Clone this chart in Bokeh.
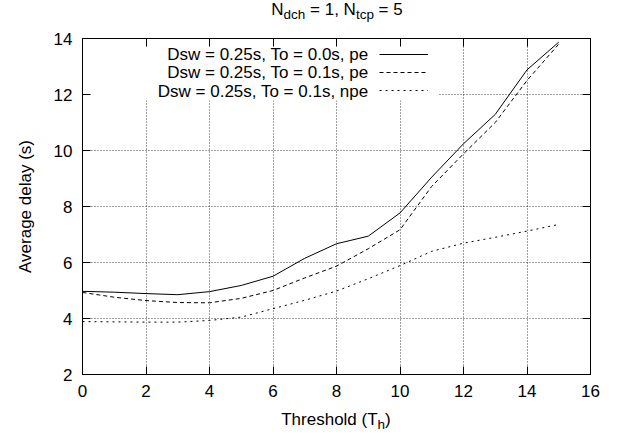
from bokeh.plotting import figure
from bokeh.layouts import column
from bokeh.models import (Range1d, LinearAxis, FixedTicker, Label, BoxAnnotation,
                          Legend, LegendItem, Div)
from bokeh.embed import file_html
from bokeh.resources import INLINE

# ---------------- data ----------------
threshold = [0, 1, 2, 3, 4, 5, 6, 7, 8, 9, 10, 11, 12, 13, 14, 15]
delay_to00_pe = [4.97, 4.94, 4.89, 4.85, 4.96, 5.18, 5.51, 6.15, 6.67, 6.94, 7.77, 9.05, 10.24, 11.29, 12.88, 13.87]
delay_to01_pe = [4.93, 4.76, 4.64, 4.57, 4.56, 4.72, 5.00, 5.45, 5.87, 6.49, 7.17, 8.72, 9.88, 11.00, 12.50, 13.80]
delay_to01_npe = [3.89, 3.88, 3.87, 3.87, 3.93, 4.05, 4.35, 4.65, 4.98, 5.42, 5.89, 6.40, 6.69, 6.90, 7.12, 7.36]
series_labels = ["Dsw = 0.25s, To = 0.0s, pe",
                 "Dsw = 0.25s, To = 0.1s, pe",
                 "Dsw = 0.25s, To = 0.1s, npe"]
x_ticks = [0, 2, 4, 6, 8, 10, 12, 14, 16]
y_ticks = [2, 4, 6, 8, 10, 12, 14]
title_html = "N<sub>dch</sub> = 1, N<sub>tcp</sub> = 5"
xlabel_html = "Threshold (T<sub>h</sub>)"
ylabel_text = "Average delay (s)"

FONT = "Liberation Sans"
FS = 17
W = 615

SUB_CSS = "<sub style=\"font-size:13.5px;line-height:0;vertical-align:-4px\">"


def text_div(html, height, pad_left, pad_top):
    html = html.replace("<sub>", SUB_CSS)
    inner = ("<div style=\"font-family:'Liberation Sans';font-size:17px;line-height:20px;"
             f"width:{W}px;box-sizing:border-box;text-align:center;"
             f"padding-left:{pad_left}px;padding-top:{pad_top}px;white-space:nowrap;color:black\">"
             f"{html}</div>")
    return Div(text=inner, width=W, height=height, margin=0)


p = figure(width=W, height=378, output_backend="svg", toolbar_location=None,
           x_range=Range1d(0, 16), y_range=Range1d(2, 14),
           min_border_left=82, min_border_right=25, min_border_top=10, min_border_bottom=32,
           background_fill_color="white", border_fill_color="white")
p.outline_line_color = "black"
p.outline_line_width = 1

bottom_ax = p.xaxis[0]
left_ax = p.yaxis[0]
bottom_ax.ticker = FixedTicker(ticks=x_ticks)
left_ax.ticker = FixedTicker(ticks=y_ticks)
top_ax = LinearAxis(ticker=FixedTicker(ticks=x_ticks))
right_ax = LinearAxis(ticker=FixedTicker(ticks=y_ticks))
p.add_layout(top_ax, "above")
p.add_layout(right_ax, "right")

for ax in [bottom_ax, left_ax, top_ax, right_ax]:
    ax.major_tick_in = 8
    ax.major_tick_out = 0
    ax.minor_tick_line_color = None
    ax.axis_line_color = "black"
    ax.major_tick_line_color = "black"
    ax.major_label_text_font = FONT
    ax.major_label_text_font_size = f"{FS}px"
    ax.major_label_text_color = "black"
    ax.major_label_standoff = 10
for ax in [top_ax, right_ax]:
    ax.major_label_text_font_size = "0px"
    ax.major_label_text_color = None
    ax.major_label_standoff = 0

left_ax.axis_label = ylabel_text
left_ax.axis_label_text_font = FONT
left_ax.axis_label_text_font_size = f"{FS}px"
left_ax.axis_label_text_font_style = "normal"
left_ax.axis_label_text_color = "black"
left_ax.axis_label_standoff = 16

# grid
for g in [p.xgrid[0], p.ygrid[0]]:
    g.grid_line_color = "black"
    g.grid_line_alpha = 0.75
    g.grid_line_dash = "1 2"
    g.grid_line_width = 1
p.xgrid[0].ticker = FixedTicker(ticks=x_ticks[1:-1])
p.ygrid[0].ticker = FixedTicker(ticks=y_ticks[1:-1])

# opaque key area
p.add_layout(BoxAnnotation(left=0, right=11.21, bottom=11.79, top=14,
                           fill_color="white", fill_alpha=1, line_color=None,
                           level="underlay"))

# lines
r1 = p.line(threshold, delay_to00_pe, line_color="black", line_width=1)
r2 = p.line(threshold, delay_to01_pe, line_color="black", line_width=1, line_dash="4 3")
r3 = p.line(threshold, delay_to01_npe, line_color="black", line_width=1, line_dash="2 4")

# key samples (right of the text, gnuplot style)
leg = Legend(items=[LegendItem(label=" ", renderers=[r]) for r in (r1, r2, r3)],
             location=(297, 275), orientation="vertical",
             glyph_width=49, glyph_height=18, label_height=18, label_width=0,
             label_standoff=0, spacing=0, padding=0, margin=0,
             label_text_font_size="6px",
             background_fill_alpha=0, border_line_color=None)
p.add_layout(leg, "center")

# key texts
for lbl, yy in zip(series_labels, [13.446, 12.786, 12.125]):
    p.add_layout(Label(x=9.008, y=yy, text=lbl, text_align="right", text_baseline="middle",
                       text_font=FONT, text_font_size=f"{FS}px", text_color="black"))

title_div = text_div(title_html, 28, 59, 0)
xlabel_div = text_div(xlabel_html, 29, 57, 4)

layout = column(title_div, p, xlabel_div, spacing=0)

open("out.html", "w").write(file_html(layout, INLINE))
